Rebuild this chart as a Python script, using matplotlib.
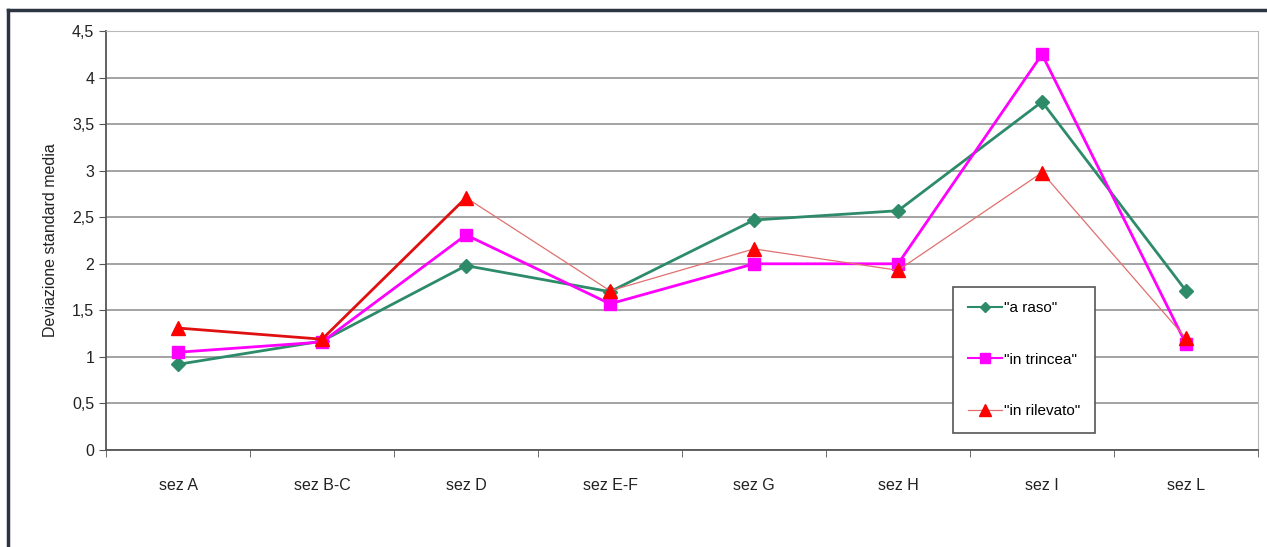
import numpy as np
import matplotlib
matplotlib.use("Agg")
import matplotlib.pyplot as plt
from matplotlib.lines import Line2D
from matplotlib.ticker import FuncFormatter

plt.rcParams['font.family'] = ['Liberation Sans', 'DejaVu Sans']

sezioni = ['sez A', 'sez B-C', 'sez D', 'sez E-F', 'sez G', 'sez H', 'sez I', 'sez L']
a_raso = [0.92, 1.17, 1.98, 1.70, 2.47, 2.57, 3.74, 1.71]
in_trincea = [1.05, 1.16, 2.31, 1.57, 2.00, 2.00, 4.25, 1.14]
in_rilevato = [1.31, 1.19, 2.71, 1.71, 2.16, 1.93, 2.98, 1.20]

verde = '#2e8b6a'
magenta = '#ff00ff'
rosso = '#ff0000'

fig = plt.figure(figsize=(12.67, 5.47), dpi=100)
ax = fig.add_axes([0.0837, 0.1773, 0.9092, 0.766])

x = np.arange(len(sezioni))

ax.plot(x, a_raso, color=verde, lw=2, marker='D', ms=7, zorder=3)
ax.plot(x, in_trincea, color=magenta, lw=2, marker='s', ms=9, zorder=4)
# rilevato: thick up to sez D, thin afterwards
ax.plot(x[:3], in_rilevato[:3], color='#e01010', lw=2, zorder=5)
ax.plot(x[2:], in_rilevato[2:], color='#e07070', lw=0.9, zorder=5)
ax.plot(x, in_rilevato, ls='none', color=rosso, marker='^', ms=9.5, zorder=6)

ax.set_xlim(-0.5, len(sezioni) - 0.5)
ax.set_ylim(0, 4.5)
ax.set_yticks(np.arange(0, 4.51, 0.5))
ax.yaxis.set_major_formatter(FuncFormatter(lambda v, p: ('%g' % v).replace('.', ',')))
ax.set_xticks(x)
ax.set_xticklabels(sezioni, fontsize=11.5, color='#222222')
ax.set_xticks(np.arange(-0.5, len(sezioni)), minor=True)
ax.tick_params(axis='x', which='major', length=0, pad=20)
ax.tick_params(axis='x', which='minor', length=5, color='#555555')
ax.tick_params(axis='y', length=5, color='#555555', labelsize=11.5, labelcolor='#222222')

ax.grid(axis='y', color='#8a8a8a', lw=1.1)
ax.set_axisbelow(True)
for s in ['top', 'right']:
    ax.spines[s].set_color('#b8b8b8')
for s in ['left', 'bottom']:
    ax.spines[s].set_color('#555555')
    ax.spines[s].set_linewidth(1.3)

ax.set_ylabel('Deviazione standard media', fontsize=11.5, color='#222222', labelpad=10)

handles = [
    Line2D([], [], color=verde, lw=1.5, marker='D', ms=5),
    Line2D([], [], color=magenta, lw=1.5, marker='s', ms=7),
    Line2D([], [], color='#e07070', lw=0.9, marker='^', ms=8, mfc=rosso, mec=rosso),
]
leg = ax.legend(handles, ['"a raso"', '"in trincea"', '"in rilevato"'],
                loc='lower left', bbox_to_anchor=(0.729, 0.023), fontsize=11,
                labelspacing=2.45, handlelength=2.2, handletextpad=0.15,
                borderpad=0.95, fancybox=False, framealpha=1, edgecolor='#555555')
leg.get_frame().set_linewidth(1.2)

# outer chart frame
fig.add_artist(Line2D([0.0065, 1.0], [0.981, 0.981], color='#2b3440', lw=2.5))
fig.add_artist(Line2D([0.0065, 0.0065], [0.0, 0.981], color='#2b3440', lw=2.5))

fig.savefig('out.png', dpi=100)
